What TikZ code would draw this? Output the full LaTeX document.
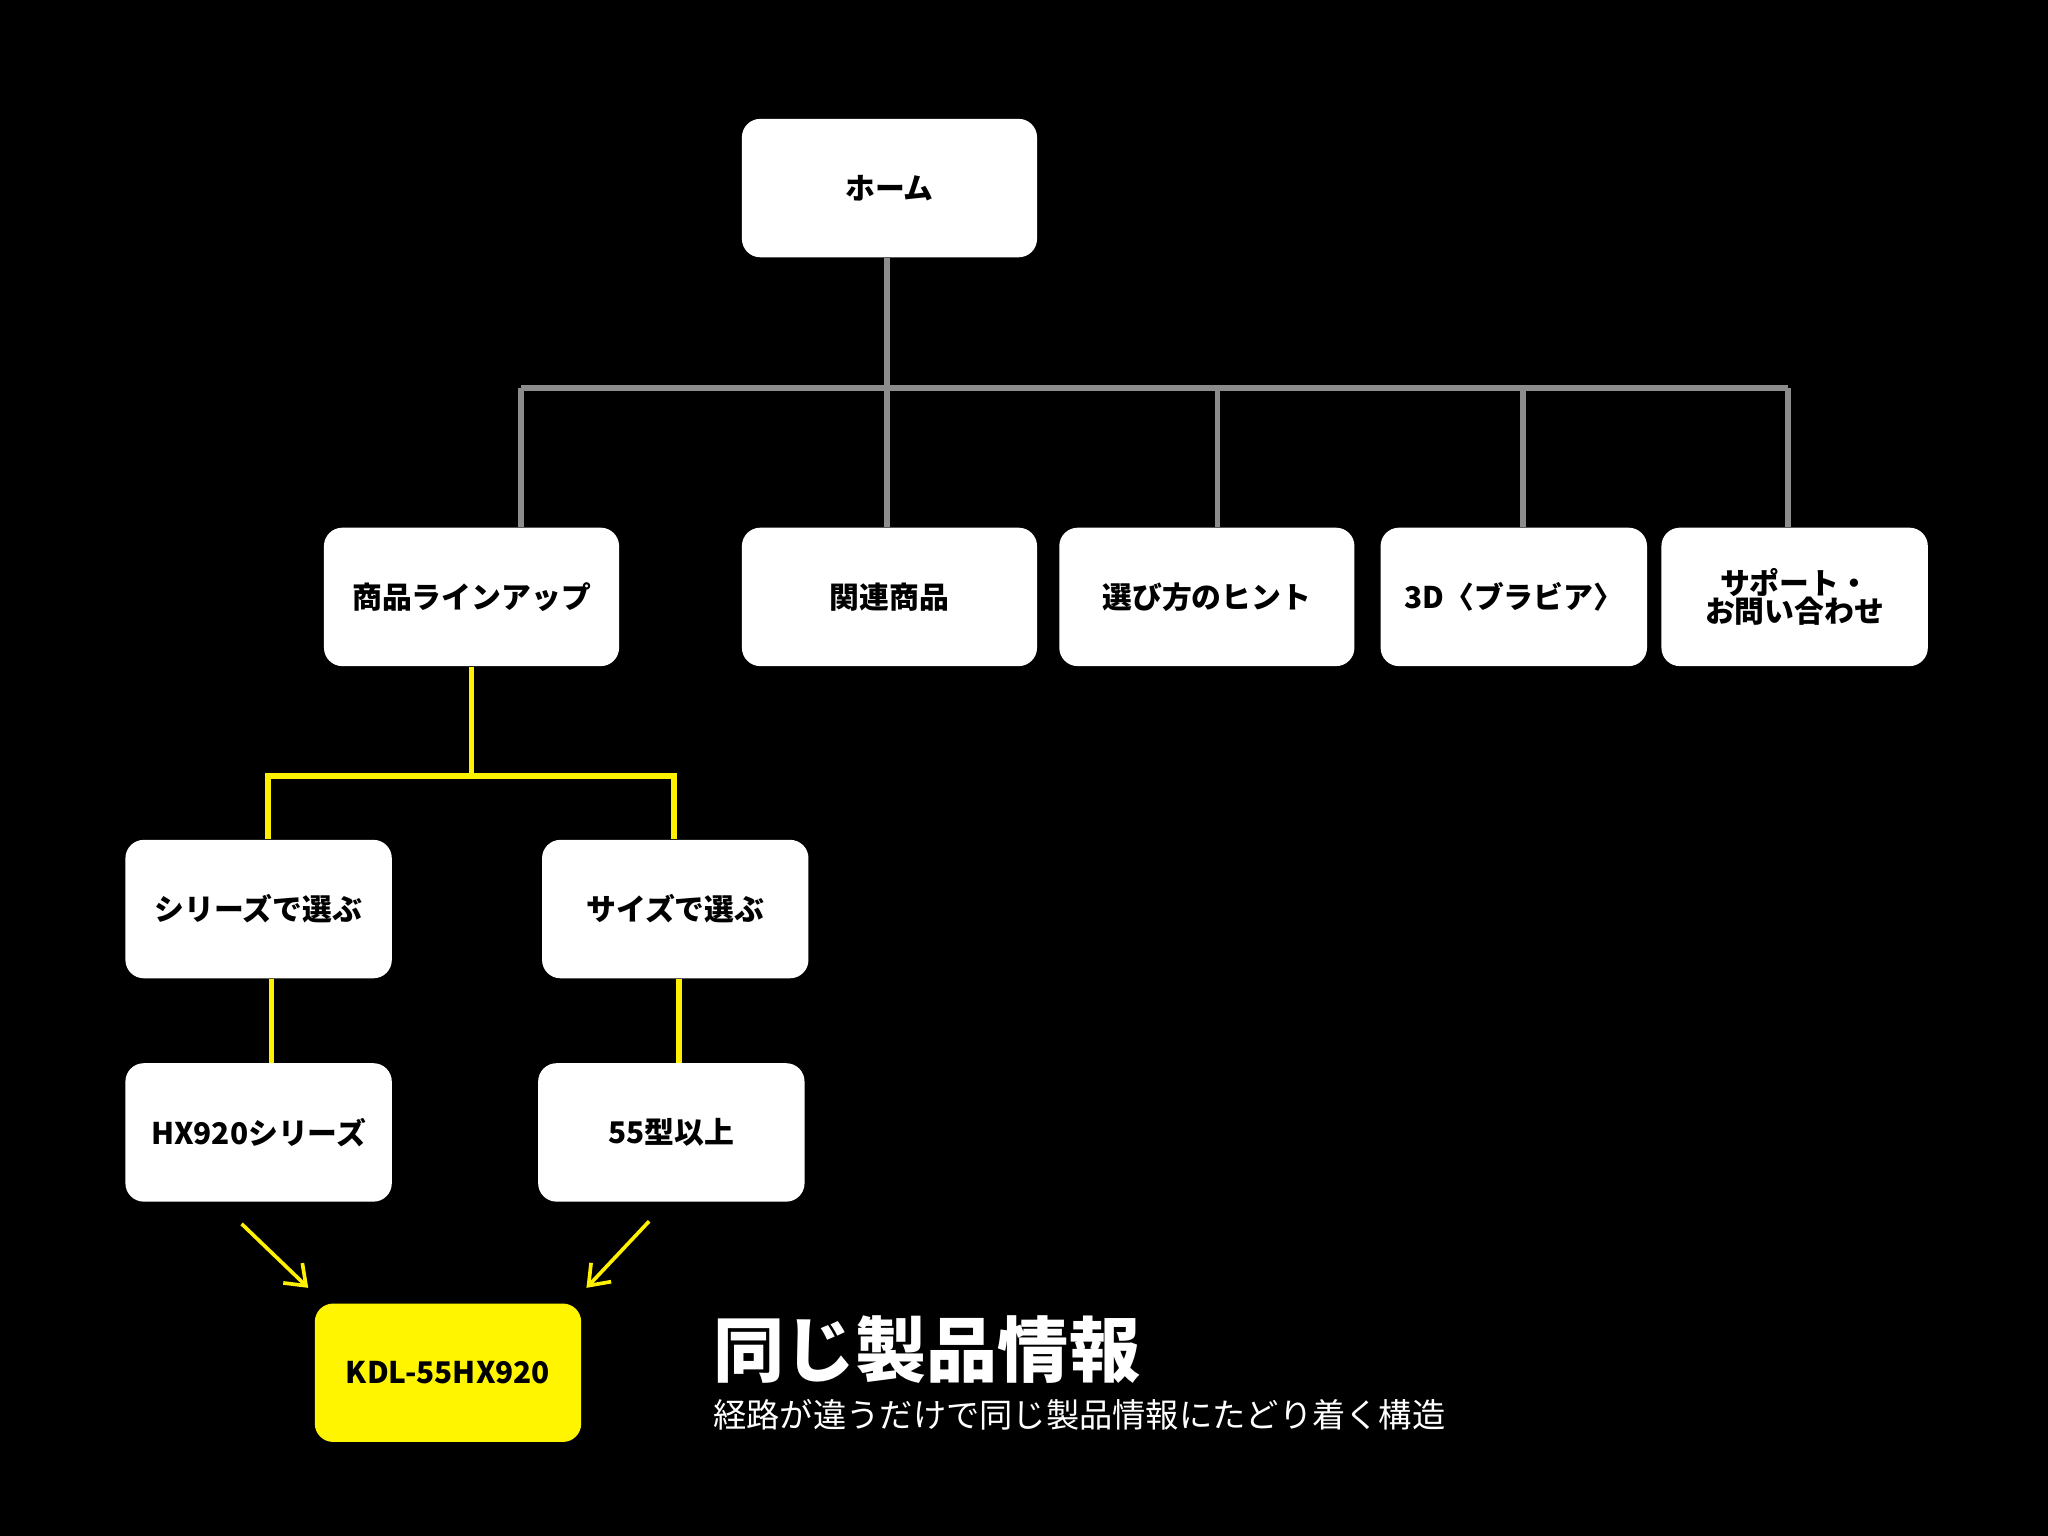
\documentclass[tikz,border=0pt]{standalone}
\usepackage{fontspec}
\setmainfont{Noto Sans CJK JP}
\usetikzlibrary{arrows.meta}
\tikzset{
  box/.style={draw=none,fill=white,rounded corners=8pt,minimum width=4.52cm,minimum height=2.12cm,align=center,font=\bfseries\fontsize{13}{15}\selectfont,text=black},
  nbox/.style={box,minimum width=4.08cm},
  gline/.style={draw={rgb,255:red,140;green,140;blue,140},line width=2.4pt},
  yline/.style={draw={rgb,255:red,255;green,240;blue,0},line width=2.4pt},
  yarrow/.style={draw={rgb,255:red,255;green,240;blue,0},line width=1.6pt,-{Straight Barb[length=8pt,width=12pt]}}
}
\definecolor{kdl}{RGB}{255,245,0}
\begin{document}
\begin{tikzpicture}[x=0.02cm,y=-0.02cm]
  \fill[black] (0,0) rectangle (1568,1176);
  \useasboundingbox (0,0) rectangle (1568,1176);
  \node[box](HOME) at (681,144) {ホーム};
  \node[box](LINE) at (361,457) {商品ラインアップ};
  \node[box](REL) at (681,457) {関連商品};
  \node[box](HINT) at (924,457) {選び方のヒント};
  \node[nbox](BRAV) at (1159,457) {3D〈ブラビア〉};
  \node[nbox](SUPP) at (1374,457) {サポート・\\[-3pt]お問い合わせ};
  \node[nbox](SER) at (198,696) {シリーズで選ぶ};
  \node[nbox](SIZE) at (517,696) {サイズで選ぶ};
  \node[nbox](HX) at (198,867) {HX920シリーズ};
  \node[nbox](S55) at (514,867) {55型以上};
  \node[nbox,fill=kdl](KDL) at (343,1051) {KDL-55HX920};
  \coordinate (J) at (679,297);
  \coordinate (Y) at (361,594);
  % grey tree
  \draw[gline] (HOME.south -| J) -- (J);
  \draw[gline] (399,297) -- (1369,297);
  \draw[gline] (399,297) -- (LINE.north -| 399,0);
  \draw[gline] (J) -- (REL.north -| J);
  \draw[gline] (932,297) -- (HINT.north -| 932,0);
  \draw[gline] (1166,297) -- (BRAV.north -| 1166,0);
  \draw[gline] (1369,297) -- (SUPP.north -| 1369,0);
  % yellow tree
  \draw[yline] (LINE.south) -- (Y);
  \draw[yline] (SER.north -| 205,0) |- (Y) -| (SIZE.north -| 516,0);
  \draw[yline] (SER.south -| 208,0) -- (HX.north -| 208,0);
  \draw[yline] (SIZE.south -| 520,0) -- (S55.north -| 520,0);
  \draw[yarrow] (185,937) -- (236,986);
  \draw[yarrow] (497,935) -- (449,986);
  \node[anchor=west,text=white,font=\bfseries\fontsize{31}{34}\selectfont] (TITLE) at (540,1033) {同じ製品情報};
  \node[anchor=west,text=white,font=\fontsize{14.5}{17}\selectfont] (SUB) at (540,1083) {経路が違うだけで同じ製品情報にたどり着く構造};
\end{tikzpicture}
\end{document}
